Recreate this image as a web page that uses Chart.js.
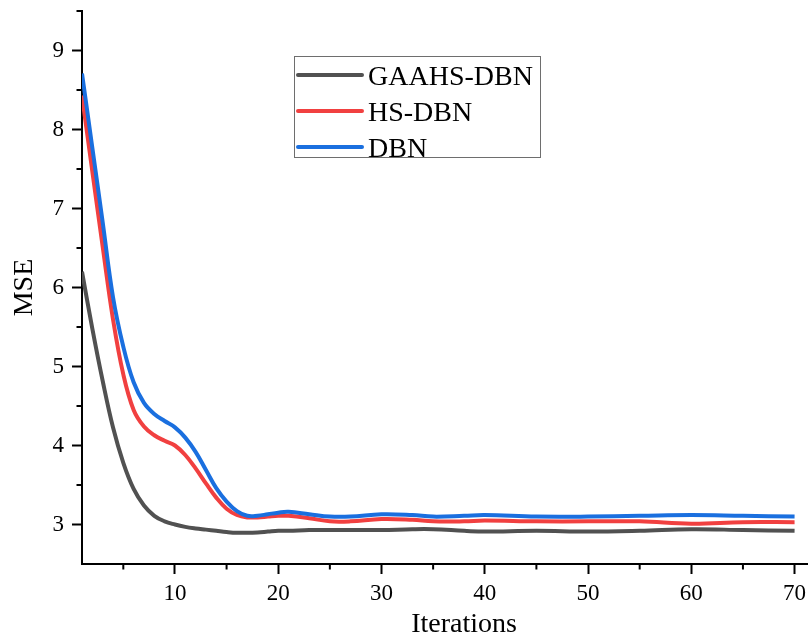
<!DOCTYPE html>
<html><head><meta charset="utf-8">
<script src="https://cdn.jsdelivr.net/npm/chart.js@4.4.1/dist/chart.umd.min.js"></script>
<style>html,body{margin:0;padding:0;background:#fff;}canvas{display:block;}</style>
</head><body>
<canvas id="c" width="808" height="636"></canvas>
<script>
const iterations = [1,2,3,4,5,6,7,8,9,10,11,12,13,14,15,16,17,18,19,20,21,23,25,27,30,33,35,38,40,45,50,55,60,65,70];
const gaahsDbn = [6.20,5.48,4.82,4.23,3.78,3.45,3.24,3.11,3.04,3.00,2.97,2.95,2.935,2.92,2.905,2.895,2.895,2.90,2.91,2.92,2.92,2.93,2.93,2.93,2.93,2.94,2.94,2.92,2.91,2.92,2.91,2.92,2.94,2.93,2.92];
const hsDbn = [8.43,7.47,6.52,5.60,4.90,4.45,4.24,4.13,4.06,4.00,3.88,3.71,3.52,3.34,3.20,3.12,3.09,3.09,3.10,3.11,3.11,3.08,3.04,3.04,3.07,3.06,3.04,3.04,3.05,3.04,3.04,3.04,3.01,3.03,3.03];
const dbn = [8.71,7.77,6.83,5.88,5.25,4.80,4.54,4.40,4.31,4.23,4.10,3.92,3.69,3.46,3.29,3.17,3.11,3.11,3.13,3.15,3.16,3.13,3.10,3.10,3.13,3.12,3.10,3.11,3.12,3.10,3.10,3.11,3.12,3.11,3.10];
const seriesLabels = ['GAAHS-DBN','HS-DBN','DBN'];
const xMajorTicks = [10,20,30,40,50,60,70];
const xMinorTicks = [5,15,25,35,45,55,65];
const yMajorTicks = [3,4,5,6,7,8,9];
const yMinorTicks = [3.5,4.5,5.5,6.5,7.5,8.5,9.5];
const xTitle = 'Iterations';
const yTitle = 'MSE';

const FONT = "'Liberation Serif', 'Times New Roman', serif";
const colors = ['#515151','#F14040','#1A6FDF'];
const seriesValues = [gaahsDbn, hsDbn, dbn];

const datasets = seriesLabels.map((lab,i)=>({
  label: lab,
  data: iterations.map((x,j)=>({x:x, y:seriesValues[i][j]})),
  borderColor: colors[i],
  backgroundColor: colors[i],
  borderWidth: 4,
  pointRadius: 0,
  tension: 0.4,
  fill: false,
  order: 3 - i
}));

const extras = {
  id: 'extras',
  afterDraw(chart){
    const ctx = chart.ctx, xs = chart.scales.x, ys = chart.scales.y;
    ctx.save();
    ctx.strokeStyle = '#000'; ctx.lineWidth = 2;
    xMinorTicks.forEach(v=>{const p = xs.getPixelForValue(v); ctx.beginPath(); ctx.moveTo(p, xs.top); ctx.lineTo(p, xs.top+5.5); ctx.stroke();});
    yMinorTicks.forEach(v=>{const p = ys.getPixelForValue(v); ctx.beginPath(); ctx.moveTo(ys.right, p); ctx.lineTo(ys.right-5.5, p); ctx.stroke();});
    ctx.fillStyle = '#000';
    ctx.font = "28px " + FONT;
    ctx.textAlign = 'center'; ctx.textBaseline = 'alphabetic';
    ctx.fillText(xTitle, 464, 632);
    const bx = 294.5, by = 56.5, bw = 246, bh = 101;
    ctx.strokeStyle = '#6e6e6e'; ctx.lineWidth = 1;
    ctx.strokeRect(bx, by, bw, bh);
    chart.data.datasets.forEach((ds,i)=>{
      const cy = 75 + i*36;
      ctx.strokeStyle = ds.borderColor; ctx.lineWidth = 4; ctx.lineCap = 'round';
      ctx.beginPath(); ctx.moveTo(298, cy); ctx.lineTo(362, cy); ctx.stroke();
      ctx.fillStyle = '#000'; ctx.textAlign = 'left'; ctx.textBaseline = 'alphabetic';
      ctx.fillText(ds.label, 368, cy + 9.5);
    });
    ctx.restore();
  }
};

new Chart(document.getElementById('c'), {
  type: 'line',
  data: { datasets: datasets },
  options: {
    responsive: false,
    animation: false,
    devicePixelRatio: 1,
    layout: { padding: { left: 0, right: 0, top: 11, bottom: 0 } },
    plugins: { legend: { display: false }, tooltip: { enabled: false } },
    scales: {
      x: {
        type: 'linear', min: 1, max: 71.3,
        afterBuildTicks(s){ s.ticks = xMajorTicks.map(v=>({value:v})); },
        afterFit(s){ s.height = 72; s.paddingLeft = 0; s.paddingRight = 0; },
        grid: { drawOnChartArea: false, drawTicks: true, tickLength: 10, tickColor: '#000', tickWidth: 2 },
        border: { color: '#000', width: 2 },
        ticks: { color: '#000', font: { family: FONT, size: 23 }, padding: 6, maxRotation: 0 },
        title: { display: false, text: xTitle }
      },
      y: {
        type: 'linear', min: 2.5, max: 9.5,
        afterBuildTicks(s){ s.ticks = yMajorTicks.map(v=>({value:v})); },
        afterFit(s){ s.width = 82; s.paddingTop = 0; s.paddingBottom = 0; },
        grid: { drawOnChartArea: false, drawTicks: true, tickLength: 10, tickColor: '#000', tickWidth: 2 },
        border: { color: '#000', width: 2 },
        ticks: { color: '#000', font: { family: FONT, size: 23 }, padding: 8 },
        title: { display: true, text: yTitle, color: '#000', font: { family: FONT, size: 28 }, padding: { top: 8, bottom: 0 } }
      }
    }
  },
  plugins: [extras]
});
</script>
</body></html>
